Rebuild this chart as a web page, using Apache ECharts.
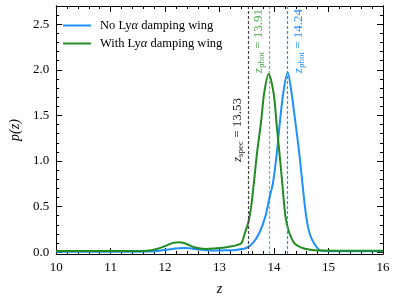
<!DOCTYPE html>
<html><head><meta charset="utf-8">
<script src="https://cdn.jsdelivr.net/npm/echarts@6/dist/echarts.min.js"></script>
<style>html,body{margin:0;padding:0;background:#fff}#c{width:397px;height:301px}</style>
</head><body><div id="c"></div>
<script>
// Data
var seriesNames = ['No Lyα damping wing', 'With Lyα damping wing'];
var blueZ = [10, 11.5, 11.8, 11.95, 12.1, 12.25, 12.35, 12.45, 12.6, 12.75, 12.9, 13.1, 13.3, 13.49, 13.61, 13.73, 13.84, 13.91, 13.98, 14.05, 14.1, 14.17, 14.25, 14.32, 14.4, 14.46, 14.52, 14.59, 14.65, 14.73, 14.82, 14.9, 15.2, 16];
var blueP = [0.006, 0.006, 0.01, 0.02, 0.033, 0.043, 0.046, 0.042, 0.03, 0.02, 0.018, 0.02, 0.025, 0.046, 0.10, 0.21, 0.39, 0.58, 0.76, 1.08, 1.385, 1.75, 1.97, 1.75, 1.385, 1.1, 0.76, 0.39, 0.21, 0.10, 0.03, 0.012, 0.01, 0.01];
var greenZ = [10, 11, 11.6, 11.75, 11.85, 11.95, 12.05, 12.15, 12.25, 12.35, 12.45, 12.55, 12.65, 12.75, 12.9, 13.0, 13.1, 13.2, 13.3, 13.4, 13.47, 13.53, 13.58, 13.63, 13.69, 13.76, 13.82, 13.9, 13.99, 14.05, 14.11, 14.15, 14.21, 14.28, 14.37, 14.45, 14.55, 14.7, 14.9, 15.5, 16];
var greenP = [0.012, 0.012, 0.013, 0.02, 0.035, 0.055, 0.08, 0.102, 0.11, 0.1, 0.075, 0.052, 0.04, 0.036, 0.04, 0.045, 0.052, 0.062, 0.075, 0.1, 0.22, 0.33, 0.5, 0.76, 1.1, 1.42, 1.75, 1.955, 1.75, 1.385, 1.02, 0.76, 0.39, 0.21, 0.10, 0.065, 0.04, 0.025, 0.018, 0.015, 0.015];
var zSpec = 13.53, zPhotGreen = 13.91, zPhotBlue = 14.24;
var yTicks = [0.0, 0.5, 1.0, 1.5, 2.0, 2.5];
var yMinorTicks = [0.1,0.2,0.3,0.4,0.6,0.7,0.8,0.9,1.1,1.2,1.3,1.4,1.6,1.7,1.8,1.9,2.1,2.2,2.3,2.4,2.6];

function pairs(xs, ys){ return xs.map(function(x,i){return [x, ys[i]];}); }

var FONT = 'Liberation Serif';
var BLUE = '#1e90ff', GREEN = '#228b22';
var XMIN = 10, XMAX = 16, YMIN = -0.02, YMAX = 2.7;
var TICK = '#000';

function xAx(pos, showLabel){
  return {type:'value', min:XMIN, max:XMAX, interval:1, position:pos,
    axisLine:{show:true, onZero:false, lineStyle:{color:'#000', width:1}},
    axisTick:{show:true, inside:true, length:6, lineStyle:{color:TICK}},
    minorTick:{show:true, splitNumber:5, length:3, lineStyle:{color:TICK}},
    axisLabel:{show:showLabel, margin:7, color:'#000', fontFamily:FONT, fontSize:13},
    splitLine:{show:false}};
}
function yAx(pos, showLabel, vals, len){
  return {type:'value', min:YMIN, max:YMAX, position:pos,
    axisLine:{show:true, onZero:false, lineStyle:{color:'#000', width:1}},
    axisTick:{show:true, inside:true, length:len, customValues: vals, lineStyle:{color:TICK}},
    axisLabel:{show:showLabel, margin:7, color:'#000', fontFamily:FONT, fontSize:13,
      customValues: vals, formatter: function(v){return v.toFixed(1);}},
    splitLine:{show:false}};
}

var xs = [xAx('bottom', true), xAx('top', false)];
xs[0].name = 'z'; xs[0].nameLocation = 'middle'; xs[0].nameGap = 28;
xs[0].nameTextStyle = {fontFamily:FONT, fontStyle:'italic', fontSize:14, color:'#000'};
var ys = [yAx('left', true, yTicks, 6), yAx('left', false, yMinorTicks, 3), yAx('right', false, yTicks, 6), yAx('right', false, yMinorTicks, 3)];
ys[0].name = 'p(z)'; ys[0].nameLocation = 'middle'; ys[0].nameGap = 33;
ys[0].nameTextStyle = {fontFamily:FONT, fontStyle:'italic', fontSize:14, color:'#000'};

function vline(x, color, text, pos, tcolor){
  return {xAxis:x, lineStyle:{color:color, type:[3,2], width:1.2},
    label:{show:true, position:pos, distance:3, formatter:text, color:tcolor,
      rich:{
        z:{fontFamily:FONT, fontStyle:'italic', fontSize:13, color:tcolor},
        s:{fontFamily:FONT, fontSize:9, color:tcolor, padding:[7,0,0,0]},
        t:{fontFamily:FONT, fontSize:13, color:tcolor}
      }}};
}

var option = {
  animation:false,
  grid:{left:53, right:14, top:6, bottom:47},
  legend:{left:58, top:14, orient:'vertical', itemWidth:28, itemHeight:12, itemGap:5,
    icon:'path://M0,5 L28,5 L28,7 L0,7 Z',
    textStyle:{fontFamily:FONT, fontSize:12.5, color:'#000', padding:[0,0,0,4],
      rich:{a:{fontFamily:FONT, fontStyle:'italic', fontSize:12.5}}},
    formatter:function(n){return n.replace('α','{a|α}');},
    data:seriesNames},
  xAxis: xs,
  yAxis: ys,
  series:[
    {name:seriesNames[0], type:'line', data:pairs(blueZ, blueP), showSymbol:false, smooth:0.3,
      lineStyle:{color:BLUE, width:2}, itemStyle:{color:BLUE}, z:3,
      markLine:{silent:true, symbol:'none', data:[
        vline(zPhotBlue, BLUE, '{z|z}{s|phot}{t| = 14.24}', 'insideEndBottom', BLUE)
      ]}},
    {name:seriesNames[1], type:'line', data:pairs(greenZ, greenP), showSymbol:false, smooth:0.3,
      lineStyle:{color:GREEN, width:2}, itemStyle:{color:GREEN}, z:4,
      markLine:{silent:true, symbol:'none', data:[
        vline(zPhotGreen, 'rgba(34,139,34,0.6)', '{z|z}{s|phot}{t| = 13.91}', 'insideEndTop', '#4fa84f'),
        vline(zSpec, '#444', '{z|z}{s|spec}{t| = 13.53}', 'insideMiddleTop', '#222')
      ]}}
  ]
};
var chart = echarts.init(document.getElementById('c'));
chart.setOption(option);
</script></body></html>
